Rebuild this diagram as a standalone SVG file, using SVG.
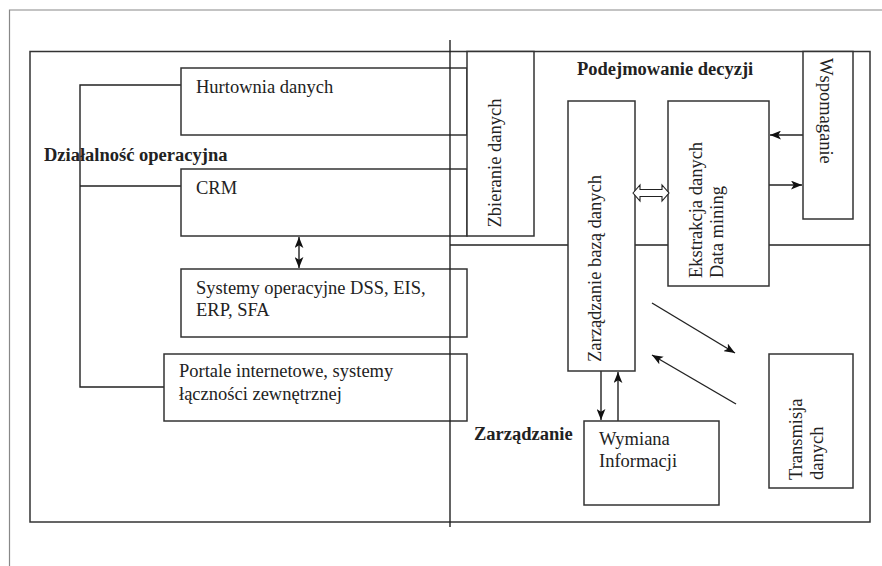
<svg xmlns="http://www.w3.org/2000/svg" width="882" height="566" viewBox="0 0 882 566">
<style>
.b{fill:none;stroke:#333;stroke-width:1.5}
.w{fill:#fff;stroke:#333;stroke-width:1.5}
.l{fill:none;stroke:#222;stroke-width:1.4}
.t{font-family:"Liberation Serif","Times New Roman",serif;font-size:18.5px;fill:#222}
.tb{font-family:"Liberation Serif","Times New Roman",serif;font-size:18.5px;font-weight:bold;fill:#222}
</style>
<defs>
<marker id="ah" viewBox="0 0 10 8" refX="10" refY="4" markerWidth="11" markerHeight="9" orient="auto-start-reverse" markerUnits="userSpaceOnUse">
<path d="M0,0 L10,4 L0,8 L2.5,4 z" fill="#111"/>
</marker>
</defs>
<rect width="882" height="566" fill="#fff"/>
<g id="page-frame">
<path d="M9.5,566 V10 H882" fill="none" stroke="#888" stroke-width="1.2"/>
</g>
<g id="main-frame">
<rect x="30" y="51.5" width="840" height="470.5" class="b"/>
<line x1="450" y1="245" x2="870" y2="245" class="l"/>
</g>
<g id="label-dzialalnosc"><text class="tb" x="44" y="161">Działalność operacyjna</text></g>
<g id="label-podejmowanie"><text class="tb" x="577" y="75">Podejmowanie decyzji</text></g>
<g id="label-zarzadzanie"><text class="tb" x="474" y="440">Zarządzanie</text></g>
<g id="connectors">
<path d="M181,85 H80 V387 H164 M80,186 H181" class="l"/>
<line x1="299" y1="237" x2="299" y2="268" class="l" marker-start="url(#ah)" marker-end="url(#ah)"/>
<line x1="803" y1="135" x2="770" y2="135" class="l" marker-end="url(#ah)"/>
<line x1="769" y1="185" x2="802" y2="185" class="l" marker-end="url(#ah)"/>
<line x1="601" y1="371" x2="601" y2="420" class="l" marker-end="url(#ah)"/>
<line x1="618" y1="421" x2="618" y2="372" class="l" marker-end="url(#ah)"/>
<line x1="652" y1="303" x2="735" y2="353" class="l" marker-end="url(#ah)"/>
<line x1="736" y1="404" x2="652" y2="355" class="l" marker-end="url(#ah)"/>
</g>
<g id="hurtownia">
<rect x="181" y="68" width="286" height="67" class="b"/>
<text class="t" x="196" y="93">Hurtownia danych</text>
</g>
<g id="crm">
<rect x="181" y="169" width="286" height="67" class="b"/>
<text class="t" x="196" y="194">CRM</text>
</g>
<g id="systemy">
<rect x="181" y="269" width="286" height="68" class="b"/>
<text class="t" x="196" y="294">Systemy operacyjne DSS, EIS,</text>
<text class="t" x="196" y="316">ERP, SFA</text>
</g>
<g id="portale">
<rect x="164" y="354" width="303" height="67" class="b"/>
<text class="t" x="179" y="377">Portale internetowe, systemy</text>
<text class="t" x="179" y="400">łączności zewnętrznej</text>
</g>
<g id="zbieranie">
<rect x="467" y="51.5" width="67" height="184.5" class="w"/>
<text class="t" transform="translate(501,163) rotate(-90)" text-anchor="middle">Zbieranie danych</text>
</g>
<g id="zarzadzanie-baza">
<rect x="568" y="101" width="67" height="270" class="w"/>
<text class="t" transform="translate(601,362) rotate(-90)">Zarządzanie bazą danych</text>
</g>
<g id="ekstrakcja">
<rect x="668" y="101" width="101" height="185" class="w"/>
<text class="t" transform="translate(702,278) rotate(-90)">Ekstrakcja danych<tspan x="0" dy="21">Data mining</tspan></text>
</g>
<g id="wspomaganie">
<rect x="803" y="51.5" width="50" height="167.5" class="w"/>
<text class="t" transform="translate(820,58) rotate(90)">Wspomaganie</text>
</g>
<g id="wymiana">
<rect x="584" y="421" width="135" height="84" class="w"/>
<text class="t" x="599" y="445">Wymiana</text>
<text class="t" x="599" y="467">Informacji</text>
</g>
<g id="transmisja">
<rect x="769" y="354" width="84" height="134" class="w"/>
<text class="t" transform="translate(802,480) rotate(-90)">Transmisja<tspan x="0" dy="21">danych</tspan></text>
</g>
<g id="hollow-arrow">
<polygon points="633,193 640,185 640,189.5 662,189.5 662,185 669,193 662,201 662,196.5 640,196.5 640,201" fill="#fff" stroke="#222" stroke-width="1.1"/>
</g>
<g id="divider">
<line x1="450" y1="40" x2="450" y2="527" class="l"/>
</g>
</svg>
